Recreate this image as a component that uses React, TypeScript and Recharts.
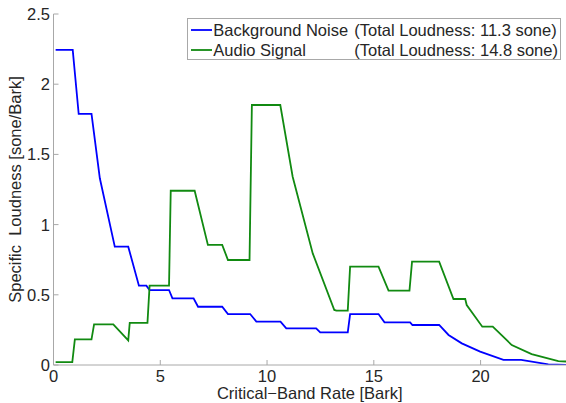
import { LineChart, Line, XAxis, YAxis, Legend } from 'recharts';

// Critical-band rate [Bark] and specific loudness [sone/Bark]
const noiseBark = [
  0.1, 0.9, 1.18, 1.78, 1.94, 2.17, 2.87, 3.5, 4.0, 4.35, 4.5, 5.41, 5.57, 6.56, 6.77, 7.9, 8.17,
  9.21, 9.5, 10.63, 10.9, 12.3, 12.49, 13.78, 13.89, 15.22, 15.5, 16.7, 16.81, 18.06, 18.5,
  19.12, 19.98, 21.07, 21.9, 23.17, 24,
];
const noiseLoudness = [
  2.245, 2.245, 1.788, 1.788, 1.6, 1.33, 0.843, 0.843, 0.565, 0.565, 0.534, 0.534, 0.475, 0.475,
  0.415, 0.415, 0.363, 0.363, 0.309, 0.309, 0.261, 0.261, 0.233, 0.233, 0.363, 0.363, 0.304,
  0.304, 0.285, 0.285, 0.214, 0.154, 0.095, 0.036, 0.036, 0.005, 0,
];

const signalBark = [
  0.1, 0.88, 1.0, 1.78, 1.9, 2.8, 3.5, 3.57, 4.4, 4.5, 5.41, 5.49, 6.61, 7.23, 7.9, 8.17, 9.18,
  9.29, 10.62, 11.2, 12.14, 13.15, 13.25, 13.78, 13.89, 15.22, 15.69, 16.67, 16.79, 18.06, 18.73,
  19.28, 19.35, 20.08, 20.57, 21.46, 22.39, 23.64, 24,
];
const signalLoudness = [
  0.02, 0.02, 0.183, 0.183, 0.29, 0.29, 0.175, 0.3, 0.3, 0.565, 0.565, 1.241, 1.241, 0.855, 0.855,
  0.748, 0.748, 1.852, 1.852, 1.341, 0.795, 0.392, 0.387, 0.387, 0.7, 0.7, 0.53, 0.53, 0.736,
  0.736, 0.47, 0.47, 0.427, 0.273, 0.273, 0.142, 0.078, 0.028, 0.025,
];

const seriesNames = ['Background Noise', 'Audio Signal'];
const totalLoudness = [11.3, 14.8];

const xTicks = [0, 5, 10, 15, 20];
const yTicks = [0, 0.5, 1, 1.5, 2, 2.5];

const noiseData = noiseBark.map((x, i) => ({ x, y: noiseLoudness[i] }));
const signalData = signalBark.map((x, i) => ({ x, y: signalLoudness[i] }));

const font = '"Liberation Sans", Arial, sans-serif';
const fontSize = 16.5;
const textColor = '#262626';
const axisColor = '#a8a8a8';
const blue = '#0000ff';
const green = '#118a11';

const BottomTick = ({ x, y, payload }: any) => (
  <g>
    <line x1={x} x2={x} y1={y} y2={y - 5} stroke={axisColor} />
    <text x={x} y={y + 17} textAnchor="middle" fontFamily={font} fontSize={fontSize} fill={textColor}>
      {payload.value}
    </text>
  </g>
);

const TopTick = ({ x, y }: any) => <line x1={x} x2={x} y1={y} y2={y + 5} stroke={axisColor} />;

const LeftTick = ({ x, y, payload }: any) => (
  <g>
    <line x1={x} x2={x + 5} y1={y} y2={y} stroke={axisColor} />
    <text x={x - 3.5} y={y + 6} textAnchor="end" fontFamily={font} fontSize={fontSize} fill={textColor}>
      {payload.value}
    </text>
  </g>
);

const RightTick = ({ x, y }: any) => <line x1={x} x2={x - 5} y1={y} y2={y} stroke={axisColor} />;

const XTitle = ({ viewBox }: any) => (
  <text
    x={viewBox.x + viewBox.width / 2}
    y={viewBox.y + 34}
    textAnchor="middle"
    fontFamily={font}
    fontSize={fontSize}
    fill={textColor}
  >
    Critical−Band Rate [Bark]
  </text>
);

const YTitle = ({ viewBox }: any) => {
  const cx = 21;
  const cy = viewBox.y + viewBox.height / 2;
  return (
    <text
      x={cx}
      y={cy}
      textAnchor="middle"
      transform={`rotate(-90, ${cx}, ${cy})`}
      fontFamily={font}
      fontSize={fontSize}
      fill={textColor}
      style={{ whiteSpace: 'pre' }}
    >
      {'Specific  Loudness [sone/Bark]'}
    </text>
  );
};

const LegendBox = ({ payload }: any) => {
  // keep the plotting order, not the legend's default sort
  const items = seriesNames.map((name, i) => ({
    name,
    total: totalLoudness[i],
    color: (payload || []).find((p: any) => p.value === name)?.color ?? (i === 0 ? blue : green),
  }));
  return (
    <div
      style={{
        boxSizing: 'border-box',
        width: 374,
        height: 42,
        border: `1px solid ${axisColor}`,
        background: '#fff',
        paddingTop: 1,
        paddingLeft: 3,
        fontFamily: font,
        fontSize,
        color: textColor,
        lineHeight: '20px',
      }}
    >
      {items.map((item) => (
        <div key={item.name} style={{ display: 'flex', alignItems: 'center', height: 20, whiteSpace: 'nowrap' }}>
          <svg width={21} height={20} style={{ marginRight: 1.3 }}>
            <line x1={0} x2={21} y1={10} y2={10} stroke={item.color} strokeWidth={1.8} />
          </svg>
          <span style={{ display: 'inline-block', width: 141 }}>{item.name}</span>
          <span>(Total Loudness: {item.total} sone)</span>
        </div>
      ))}
    </div>
  );
};

export default function App() {
  return (
    <div style={{ position: 'absolute', left: 0, top: 0, background: '#fff' }}>
      <LineChart width={566} height={403} margin={{ top: 14, right: 0, bottom: 0, left: 0 }}>
        <XAxis
          dataKey="x"
          type="number"
          domain={[0, 24]}
          ticks={xTicks}
          height={38}
          tickSize={0}
          tickMargin={0}
          stroke={axisColor}
          tick={<BottomTick />}
          tickLine={false}
          allowDataOverflow
          label={<XTitle />}
        />
        <XAxis
          xAxisId="top"
          orientation="top"
          type="number"
          domain={[0, 24]}
          ticks={xTicks}
          height={0}
          tickSize={0}
          tickMargin={0}
          stroke={axisColor}
          tick={<TopTick />}
          tickLine={false}
        />
        <YAxis
          type="number"
          domain={[0, 2.5]}
          ticks={yTicks}
          width={53.5}
          tickSize={0}
          tickMargin={0}
          stroke={axisColor}
          tick={<LeftTick />}
          tickLine={false}
          allowDataOverflow
          label={<YTitle />}
        />
        <YAxis
          yAxisId="right"
          orientation="right"
          type="number"
          domain={[0, 2.5]}
          ticks={yTicks}
          width={0}
          tickSize={0}
          tickMargin={0}
          stroke={axisColor}
          tick={<RightTick />}
          tickLine={false}
        />
        <Line
          data={noiseData}
          dataKey="y"
          name={seriesNames[0]}
          type="linear"
          stroke={blue}
          strokeWidth={1.8}
          dot={false}
          activeDot={false}
          isAnimationActive={false}
        />
        <Line
          data={signalData}
          dataKey="y"
          name={seriesNames[1]}
          type="linear"
          stroke={green}
          strokeWidth={1.8}
          dot={false}
          activeDot={false}
          isAnimationActive={false}
        />
        <Legend
          layout="vertical"
          align="center"
          verticalAlign="middle"
          content={<LegendBox />}
          wrapperStyle={{ top: 18, left: 187, width: 374, height: 42 }}
        />
      </LineChart>
    </div>
  );
}
